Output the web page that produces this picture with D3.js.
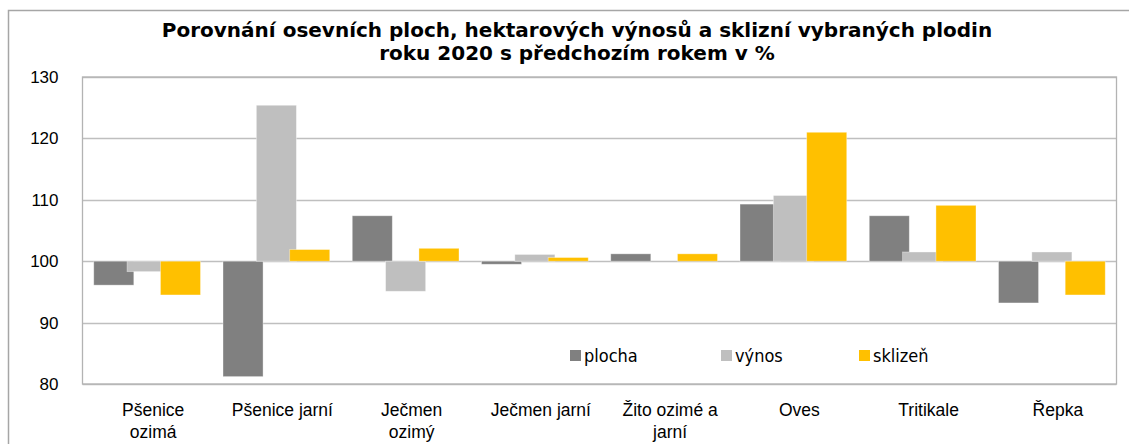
<!DOCTYPE html>
<html>
<head>
<meta charset="utf-8">
<script src="https://cdn.jsdelivr.net/npm/d3@7"></script>
<style>
  body { margin: 0; background: #fff; }
  svg { display: block; font-family: 'DejaVu Sans Condensed', 'DejaVu Sans', sans-serif; }
</style>
</head>
<body>
<div id="root"></div>
<script>
// categories (line breaks as in the original axis labels)
const categories = ['Pšenice\nozimá', 'Pšenice jarní', 'Ječmen\nozimý', 'Ječmen jarní', 'Žito ozimé a\njarní', 'Oves', 'Tritikale', 'Řepka']
const series = ['plocha', 'výnos', 'sklizeň']
const plocha = [96.1, 81.2, 107.4, 99.5, 101.2, 109.3, 107.4, 93.2]
const vynos = [98.3, 125.4, 95.1, 101.1, 100.0, 110.7, 101.5, 101.5]
const sklizen = [94.5, 101.9, 102.1, 100.6, 101.2, 121.0, 109.1, 94.5]
const yTicks = [80, 90, 100, 110, 120, 130]
const titleLines = ['Porovnání osevních ploch, hektarových výnosů a sklizní vybraných plodin', 'roku 2020 s předchozím rokem v %']

const colors = { plocha: '#808080', 'výnos': '#bfbfbf', 'sklizeň': '#ffc000' }
const values = { plocha, 'výnos': vynos, 'sklizeň': sklizen }

const dimensions = {
  width: 1129,
  height: 444,
  margin: { top: 77, right: 12.5, bottom: 60, left: 82.5 }
}

const svg = d3.select('#root').append('svg')
  .attr('width', dimensions.width)
  .attr('height', dimensions.height)

// outer chart frame
svg.append('rect')
  .attr('x', 8.5)
  .attr('y', 10.5)
  .attr('width', 1140)
  .attr('height', 460)
  .attr('fill', 'none')
  .attr('stroke', '#a6a6a6')
  .attr('stroke-width', 1.5)

const xScale = d3.scaleBand()
  .domain(categories)
  .range([dimensions.margin.left, dimensions.width - dimensions.margin.right])
  .padding(0)

const yScale = d3.scaleLinear()
  .domain([80, 130])
  .range([dimensions.height - dimensions.margin.bottom, dimensions.margin.top])

// bars overlap a little, like the Excel original
const barWidth = xScale.bandwidth() * 0.31
const barStep = xScale.bandwidth() * 0.258
const seriesScale = d3.scalePoint()
  .domain(series)
  .range([0, barStep * (series.length - 1)])
const groupOffset = (xScale.bandwidth() - (barStep * (series.length - 1) + barWidth)) / 2

// gridlines
const grid = svg.append('g')
grid.selectAll('line')
  .data(yTicks)
  .join('line')
  .attr('x1', dimensions.margin.left)
  .attr('x2', dimensions.width - dimensions.margin.right)
  .attr('y1', d => Math.round(yScale(d)) + 0.5)
  .attr('y2', d => Math.round(yScale(d)) + 0.5)
  .attr('stroke', '#bfbfbf')
  .attr('stroke-width', 1.3)

// plot frame sides
svg.append('rect')
  .attr('x', dimensions.margin.left)
  .attr('y', yScale(130))
  .attr('width', xScale.range()[1] - xScale.range()[0])
  .attr('height', yScale(80) - yScale(130))
  .attr('fill', 'none')
  .attr('stroke', '#b3b3b3')
  .attr('stroke-width', 1.3)

// bars
const bounds = svg.append('g')
series.forEach(s => {
  bounds.append('g')
    .selectAll('rect')
    .data(categories.map((c, i) => ({ c, v: values[s][i] })))
    .join('rect')
    .attr('x', d => xScale(d.c) + groupOffset + seriesScale(s))
    .attr('width', barWidth)
    .attr('y', d => yScale(Math.max(d.v, 100)))
    .attr('height', d => Math.abs(yScale(d.v) - yScale(100)))
    .attr('fill', colors[s])
    .attr('stroke', '#ffffff')
    .attr('stroke-opacity', 0.45)
    .attr('stroke-width', 0.8)
})

// y axis
const yAxis = svg.append('g')
  .attr('transform', `translate(${dimensions.margin.left}, 0)`)
  .call(d3.axisLeft(yScale).tickValues(yTicks).tickSize(0).tickPadding(24))
yAxis.select('.domain').remove()
yAxis.selectAll('text')
  .attr('font-size', '17px')
  .attr('font-family', null)
  .attr('fill', '#000')

// x axis (labels only, low position)
const xAxis = svg.append('g')
  .attr('transform', `translate(0, ${yScale(80)})`)
  .call(d3.axisBottom(xScale).tickSize(0).tickFormat(''))
xAxis.select('.domain').remove()
xAxis.selectAll('.tick text').remove()
xAxis.selectAll('.tick')
  .append('text')
  .attr('x', 6)
  .attr('text-anchor', 'middle')
  .attr('font-size', '17.5px')
  .attr('fill', '#000')
  .selectAll('tspan')
  .data(d => d.split('\n'))
  .join('tspan')
  .attr('x', 6)
  .attr('y', (_d, i) => 32 + i * 21.5)
  .text(d => d)

// title
svg.append('text')
  .attr('x', 577)
  .attr('y', 37)
  .attr('text-anchor', 'middle')
  .attr('font-family', 'DejaVu Sans, sans-serif')
  .attr('font-weight', 'bold')
  .attr('font-size', '20px')
  .attr('fill', '#000')
  .selectAll('tspan')
  .data(titleLines)
  .join('tspan')
  .attr('x', 577)
  .attr('dy', (_d, i) => i === 0 ? 0 : 23)
  .text(d => d)

// legend
const legendX = [570, 721, 859]
const legend = svg.append('g')
  .selectAll('g')
  .data(series)
  .join('g')
  .attr('transform', (_d, i) => `translate(${legendX[i]}, 350)`)
legend.append('rect')
  .attr('width', 11)
  .attr('height', 11)
  .attr('fill', d => colors[d])
legend.append('text')
  .attr('x', 14)
  .attr('y', 12)
  .attr('font-size', '18px')
  .attr('fill', '#000')
  .text(d => d)
</script>
</body>
</html>
